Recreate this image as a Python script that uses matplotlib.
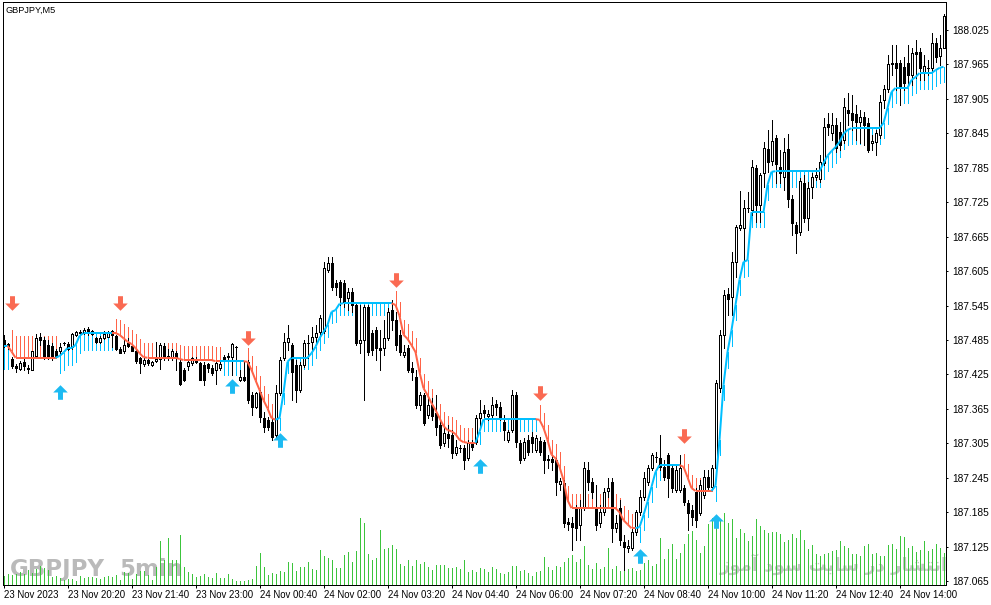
import matplotlib
matplotlib.use("Agg")
import matplotlib.pyplot as plt
from matplotlib import font_manager
from matplotlib.collections import LineCollection
from matplotlib.path import Path
import numpy as np

# ---------------- data (prices in points above 187.000, 1 point = 0.001) ----------------
BASE_PRICE = 187.0
OPEN_PTS = [
    485, 478, 452, 440, 434, 447, 437, 433, 457, 490,
    485, 476, 475, 466, 465, 479, 478, 473, 494, 497,
    498, 504, 500, 488, 482, 488, 491, 500, 492, 469,
    465, 479, 475, 466, 453, 443, 450, 441, 449, 451,
    475, 455, 453, 462, 447, 433, 439, 444, 452, 444,
    441, 443, 437, 433, 436, 456, 455, 456, 473, 415,
    421, 447, 389, 368, 394, 349, 346, 342, 320, 393,
    454, 481, 476, 441, 398, 441, 480, 481, 490, 499,
    501, 607, 619, 584, 586, 584, 558, 569, 546, 480,
    485, 542, 497, 502, 471, 471, 488, 537, 520, 494,
    459, 471, 436, 420, 372, 389, 354, 372, 358, 337,
    306, 321, 319, 288, 297, 297, 279, 306, 307, 349,
    363, 353, 354, 373, 368, 342, 311, 328, 389, 306,
    279, 311, 316, 293, 309, 307, 278, 278, 276, 234,
    236, 168, 166, 192, 163, 194, 258, 238, 192, 166,
    185, 222, 238, 157, 192, 133, 123, 123, 150, 185,
    211, 238, 262, 281, 279, 264, 285, 262, 224, 224,
    227, 201, 189, 220, 184, 215, 246, 229, 262, 401,
    494, 565, 560, 621, 680, 680, 715, 711, 785, 720,
    776, 818, 797, 837, 786, 769, 818, 731, 685, 673,
    758, 697, 752, 769, 765, 793, 861, 846, 860, 847,
    833, 886, 880, 879, 865, 874, 863, 828, 830, 842,
    903, 922, 966, 968, 968, 961, 968, 947, 987, 987,
    952, 959, 959, 1002, 980, 994,
]
CLOSE_PTS = [
    478, 475, 440, 437, 444, 440, 434, 465, 488, 485,
    453, 455, 457, 457, 473, 480, 470, 495, 499, 499,
    502, 497, 496, 482, 488, 495, 498, 494, 470, 463,
    476, 475, 466, 449, 444, 450, 444, 447, 451, 476,
    453, 457, 465, 453, 409, 415, 447, 453, 447, 416,
    415, 436, 428, 444, 443, 452, 457, 478, 472, 421,
    415, 380, 368, 393, 351, 333, 333, 316, 393, 450,
    481, 488, 429, 398, 441, 480, 479, 490, 497, 523,
    610, 619, 577, 577, 560, 551, 569, 546, 480, 485,
    542, 464, 468, 471, 468, 488, 534, 520, 476, 464,
    464, 433, 429, 372, 389, 340, 372, 353, 333, 302,
    323, 314, 288, 299, 297, 276, 306, 299, 349, 358,
    358, 356, 372, 368, 349, 328, 325, 389, 307, 276,
    307, 290, 306, 314, 290, 276, 276, 272, 238, 239,
    166, 164, 159, 157, 194, 262, 238, 220, 163, 185,
    220, 227, 157, 166, 137, 124, 126, 150, 185, 211,
    245, 262, 285, 281, 264, 246, 245, 227, 258, 262,
    203, 184, 177, 171, 232, 246, 229, 262, 410, 494,
    563, 556, 621, 682, 685, 715, 715, 786, 720, 772,
    819, 795, 832, 792, 776, 812, 731, 689, 671, 762,
    697, 750, 769, 772, 795, 856, 856, 860, 820, 825,
    891, 880, 868, 865, 874, 860, 816, 832, 846, 900,
    922, 966, 968, 959, 928, 933, 947, 985, 983, 959,
    962, 959, 1002, 978, 994, 1049,
]
HIGH_PTS = [
    494, 480, 455, 443, 448, 451, 441, 466, 495, 497,
    490, 485, 479, 470, 479, 481, 482, 498, 501, 502,
    505, 508, 502, 491, 492, 500, 501, 502, 494, 473,
    488, 488, 476, 470, 456, 453, 453, 449, 482, 479,
    480, 470, 470, 465, 450, 437, 450, 456, 455, 447,
    447, 445, 441, 447, 450, 459, 462, 480, 475, 433,
    447, 450, 394, 394, 398, 360, 351, 349, 407, 455,
    497, 511, 480, 450, 447, 485, 494, 508, 511, 528,
    621, 630, 630, 590, 590, 590, 576, 576, 549, 546,
    546, 546, 502, 508, 502, 520, 541, 555, 534, 502,
    476, 476, 447, 433, 394, 393, 384, 384, 389, 346,
    332, 337, 328, 311, 302, 302, 311, 311, 354, 380,
    372, 363, 386, 380, 377, 354, 328, 398, 394, 311,
    314, 319, 325, 319, 316, 311, 285, 285, 279, 245,
    241, 175, 177, 197, 206, 272, 272, 245, 232, 197,
    227, 245, 245, 180, 206, 145, 137, 157, 189, 224,
    255, 267, 288, 290, 319, 276, 288, 267, 267, 285,
    232, 206, 197, 227, 241, 258, 258, 267, 415, 502,
    572, 576, 638, 685, 745, 729, 743, 799, 790, 776,
    830, 851, 868, 842, 816, 837, 844, 738, 691, 767,
    772, 760, 776, 785, 807, 872, 880, 880, 872, 865,
    907, 915, 912, 894, 886, 882, 872, 842, 851, 912,
    929, 982, 999, 999, 973, 978, 999, 994, 1008, 994,
    982, 973, 1020, 1011, 1016, 1053,
]
LOW_PTS = [
    473, 470, 437, 429, 432, 433, 427, 432, 455, 476,
    451, 451, 450, 455, 461, 476, 468, 470, 492, 495,
    495, 494, 494, 480, 479, 486, 490, 473, 468, 462,
    463, 473, 465, 444, 427, 440, 441, 440, 447, 434,
    450, 450, 450, 433, 407, 414, 433, 441, 444, 415,
    407, 430, 424, 409, 433, 450, 450, 424, 450, 414,
    414, 376, 354, 366, 342, 325, 328, 311, 316, 389,
    450, 468, 380, 377, 394, 438, 454, 468, 476, 494,
    497, 603, 572, 563, 546, 542, 537, 534, 476, 462,
    380, 459, 459, 450, 433, 459, 485, 502, 468, 459,
    455, 429, 415, 366, 363, 337, 349, 346, 319, 297,
    300, 299, 279, 285, 290, 260, 276, 293, 304, 333,
    349, 346, 349, 354, 346, 311, 307, 325, 299, 271,
    276, 285, 290, 290, 285, 253, 262, 259, 215, 224,
    159, 154, 119, 137, 137, 189, 224, 210, 154, 159,
    180, 211, 133, 150, 128, 84, 116, 119, 145, 180,
    206, 232, 258, 272, 258, 241, 211, 220, 220, 220,
    198, 154, 163, 159, 180, 210, 224, 224, 258, 394,
    471, 529, 529, 595, 677, 624, 708, 703, 691, 691,
    752, 778, 790, 758, 758, 746, 717, 668, 637, 668,
    691, 677, 732, 764, 760, 790, 842, 833, 813, 816,
    828, 860, 851, 833, 828, 825, 813, 816, 807, 837,
    889, 917, 947, 921, 894, 921, 929, 929, 941, 938,
    938, 947, 952, 969, 964, 994,
]
TICK_VOLUME = [
    90, 110, 100, 110, 130, 110, 150, 120, 160, 190,
    170, 150, 80, 90, 70, 50, 60, 60, 40, 90,
    70, 80, 80, 70, 60, 80, 90, 80, 100, 50,
    130, 120, 60, 110, 140, 140, 100, 50, 180, 440,
    250, 470, 250, 250, 500, 180, 130, 110, 80, 90,
    110, 80, 70, 120, 70, 70, 110, 60, 40, 40,
    40, 50, 60, 190, 320, 180, 100, 120, 110, 140,
    130, 230, 220, 140, 180, 180, 230, 160, 150, 350,
    290, 270, 250, 170, 170, 300, 330, 230, 340, 670,
    620, 310, 250, 270, 550, 360, 370, 400, 360, 210,
    190, 250, 190, 250, 210, 230, 180, 150, 200, 200,
    200, 170, 170, 180, 160, 250, 130, 150, 130, 170,
    160, 130, 180, 160, 120, 110, 130, 190, 190, 140,
    150, 120, 90, 130, 140, 280, 180, 150, 190, 180,
    230, 270, 300, 230, 260, 390, 200, 160, 220, 160,
    180, 370, 160, 190, 140, 210, 160, 170, 140, 150,
    220, 250, 190, 210, 470, 260, 360, 410, 260, 320,
    410, 510, 540, 450, 320, 390, 610, 670, 660, 660,
    720, 620, 660, 470, 560, 520, 440, 490, 660, 590,
    550, 520, 530, 530, 510, 430, 450, 510, 470, 550,
    450, 360, 400, 310, 290, 310, 320, 340, 350, 440,
    390, 370, 310, 310, 290, 390, 410, 310, 320, 290,
    290, 400, 410, 360, 490, 480, 370, 390, 330, 350,
    440, 340, 360, 410, 370, 320,
]
# trend-line indicator (points above 187.000)
TREND_LINE_PTS = [
    475, 475, 465, 454, 454, 454, 454, 454, 454, 454,
    454, 454, 454, 454, 457, 463, 471, 471, 476, 492,
    497, 497, 497, 497, 497, 497, 497, 497, 497, 494,
    488, 482, 478, 471, 462, 455, 454, 454, 454, 454,
    454, 454, 454, 454, 452, 450, 450, 450, 450, 450,
    450, 450, 450, 448, 448, 448, 448, 448, 448, 448,
    448, 447, 433, 415, 398, 380, 366, 349, 346, 349,
    393, 447, 454, 454, 454, 454, 454, 462, 473, 488,
    499, 511, 534, 537, 548, 549, 549, 549, 549, 549,
    549, 549, 549, 549, 549, 549, 549, 549, 546, 527,
    494, 487, 476, 464, 429, 401, 389, 375, 363, 349,
    335, 328, 326, 321, 311, 307, 306, 306, 306, 325,
    347, 347, 347, 347, 347, 347, 347, 347, 347, 347,
    347, 347, 347, 347, 346, 332, 311, 285, 279, 264,
    241, 206, 192, 192, 192, 192, 192, 192, 192, 192,
    192, 192, 192, 192, 185, 171, 164, 157, 157, 159,
    180, 203, 229, 255, 267, 267, 267, 267, 267, 267,
    264, 246, 227, 222, 222, 222, 222, 222, 231, 311,
    407, 464, 502, 546, 590, 621, 624, 708, 708, 708,
    708, 755, 778, 779, 779, 779, 779, 779, 779, 779,
    779, 779, 779, 779, 779, 793, 806, 814, 821, 830,
    844, 851, 854, 854, 854, 854, 854, 854, 854, 854,
    863, 889, 917, 924, 924, 924, 924, 938, 943, 950,
    950, 950, 950, 955, 959, 961,
]
TREND_SEG_START = [0, 2, 14, 28, 55, 61, 69, 98, 119, 134, 159, 170, 178]
TREND_SEG_DIR = [1, -1, 1, -1, 1, -1, 1, -1, 1, -1, 1, -1, 1]
TREND_SEG_SPAN_PTS = [40, 38, 30, 25, 24, 24, 20, 25, 21, 25, 26, 23, 27]
SELL_ARROW_BAR = [2, 29, 61, 98, 134, 170]
SELL_ARROW_PTS = [549, 549, 488, 590, 393, 318]
BUY_ARROW_BAR = [14, 57, 69, 119, 159, 178]
BUY_ARROW_PTS = [394, 405, 311, 265, 109, 170]

TIME_LABELS = ["23 Nov 2023", "23 Nov 20:20", "23 Nov 21:40", "23 Nov 23:00",
               "24 Nov 00:40", "24 Nov 02:00", "24 Nov 03:20", "24 Nov 04:40",
               "24 Nov 06:00", "24 Nov 07:20", "24 Nov 08:40", "24 Nov 10:00",
               "24 Nov 11:20", "24 Nov 12:40", "24 Nov 14:00"]
TIME_LABEL_BARS = [0, 16, 32, 48, 64, 80, 96, 112, 128, 144, 160, 176, 192, 208, 224]
PRICE_TICKS = [187.065, 187.125, 187.185, 187.245, 187.305, 187.365, 187.425,
               187.485, 187.545, 187.605, 187.665, 187.725, 187.785, 187.845,
               187.905, 187.965, 188.025]
SYMBOL_TITLE = "GBPJPY,M5"

# ---------------- conversion ----------------
def to_price(a):
    return BASE_PRICE + np.asarray(a, dtype=float) / 1000.0

o = to_price(OPEN_PTS)
c = to_price(CLOSE_PTS)
h = to_price(HIGH_PTS)
l = to_price(LOW_PTS)
line = to_price(TREND_LINE_PTS)
n = len(o)
x = np.arange(n)

trend = np.zeros(n, dtype=int)
span = np.zeros(n)
bounds = TREND_SEG_START + [n]
for k in range(len(TREND_SEG_START)):
    trend[bounds[k]:bounds[k + 1]] = TREND_SEG_DIR[k]
    span[bounds[k]:bounds[k + 1]] = TREND_SEG_SPAN_PTS[k] / 1000.0

BLUE = "#00bfff"
RED = "#ff6347"
PX = 0.72  # one pixel in points at dpi 100

installed = {f.name for f in font_manager.fontManager.ttflist}
WM_FAMILY = "Liberation Sans Narrow" if "Liberation Sans Narrow" in installed else "DejaVu Sans"
WM_SIZE = 21 if WM_FAMILY == "Liberation Sans Narrow" else 16.5

W, H = 991, 605
fig = plt.figure(figsize=(W / 100, H / 100), dpi=100)
fig.patch.set_facecolor("white")
rect = [2.5 / W, 20 / H, 943 / W, 583 / H]

# volume axes (behind)
axv = fig.add_axes(rect, zorder=0)
axv.set_xlim(-0.25, 235.5)
axv.set_ylim(0, 5830)
axv.axis("off")
axv.vlines(x, 0, TICK_VOLUME, color="#3cc43c", linewidth=PX, zorder=2,
           antialiased=False)

# watermarks
axv.text(7 / 943, (585 - 576) / 583, "GBPJPY", transform=axv.transAxes,
         fontsize=WM_SIZE, fontweight="bold", family=WM_FAMILY, color="#bababa",
         ha="left", va="baseline", zorder=1)
axv.text(117 / 943, (585 - 576) / 583, "5min", transform=axv.transAxes,
         fontsize=WM_SIZE, fontweight="bold", family=WM_FAMILY, color="#bababa",
         ha="left", va="baseline", zorder=1)
persian = "\uFEAF\uFEEE\uFEE3\uFE81 \uFEA9\uFEEE\uFEB3 \uFE96\uFBFE\uFE8E\uFEB3 \uFEAD\uFEA9 \uFEAD\uFE8E\uFEB8\uFE98\uFEE7\uFE8D"
axv.text(831 / 943, (585 - 564) / 583, persian, transform=axv.transAxes,
         fontsize=13, fontweight="bold", family="DejaVu Sans", color="#c6c6c6",
         ha="center", va="center", zorder=1)

# main price axes
ax = fig.add_axes(rect, zorder=1)
ax.patch.set_visible(False)
ax.set_xlim(-0.25, 235.5)
ax.set_ylim(to_price(58.1), to_price(1073.8))

# indicator verticals
vsegs, vcols = [], []
for i in range(n):
    if trend[i] > 0:
        vsegs.append([(x[i], line[i]), (x[i], line[i] - span[i])])
        vcols.append(BLUE)
    else:
        vsegs.append([(x[i], line[i]), (x[i], line[i] + span[i])])
        vcols.append(RED)
ax.add_collection(LineCollection(vsegs, colors=vcols, linewidths=PX, zorder=2,
                                 antialiaseds=False))

# candles
lo = np.minimum(l, np.minimum(o, c))
hi = np.maximum(h, np.maximum(o, c))
ax.vlines(x, lo, hi, color="black", linewidth=PX, zorder=3, antialiased=False)
body_bottom = np.minimum(o, c)
body_h = np.maximum(np.abs(c - o), 0.0005)
face = ["white" if cc >= oo else "black" for oo, cc in zip(o, c)]
ax.bar(x, body_h, bottom=body_bottom, width=0.5, color=face, edgecolor="black",
       linewidth=PX, zorder=3.5, antialiased=False)

# indicator line
lsegs, lcols = [], []
for i in range(1, n):
    lsegs.append([(x[i - 1], line[i - 1]), (x[i], line[i])])
    lcols.append(BLUE if trend[i] > 0 else RED)
ax.add_collection(LineCollection(lsegs, colors=lcols, linewidths=2 * PX, zorder=4,
                                 capstyle="butt"))

# arrows
down_verts = [(-0.17, 0.5), (0.17, 0.5), (0.17, 0.0), (0.5, 0.0), (0.0, -0.5),
              (-0.5, 0.0), (-0.17, 0.0), (-0.17, 0.5)]
codes = [Path.MOVETO] + [Path.LINETO] * 6 + [Path.CLOSEPOLY]
down_arrow = Path(down_verts, codes)
up_arrow = Path([(vx, -vy) for vx, vy in down_verts], codes)
ax.plot(SELL_ARROW_BAR, to_price(SELL_ARROW_PTS), linestyle="none", marker=down_arrow,
        markersize=10.5, color="#fa6a52", markeredgewidth=0, zorder=5)
ax.plot(BUY_ARROW_BAR, to_price(BUY_ARROW_PTS), linestyle="none", marker=up_arrow,
        markersize=10.5, color="#1cbaf2", markeredgewidth=0, zorder=5)

# axes styling
for s in ax.spines.values():
    s.set_color("black")
    s.set_linewidth(PX)
ax.yaxis.tick_right()
ax.set_yticks(PRICE_TICKS, labels=[f"{t:.3f}" for t in PRICE_TICKS])
ax.tick_params(axis="y", which="both", direction="out", length=1.6, width=PX,
               pad=3, labelsize=7.3, colors="black")
ax.set_xticks(TIME_LABEL_BARS, labels=TIME_LABELS)
ax.tick_params(axis="x", direction="out", length=2.3, width=PX, pad=1.5,
               labelsize=6.9, colors="black")
for lbl in ax.get_xticklabels():
    lbl.set_horizontalalignment("left")
    lbl.set_family("Liberation Sans")
for lbl in ax.get_yticklabels():
    lbl.set_family("Liberation Sans")

fig.text(6 / W, 1 - 10 / H, SYMBOL_TITLE, fontsize=6.6, family="Liberation Sans",
         color="black", ha="left", va="center")

fig.savefig("out.png", dpi=100, facecolor="white")
